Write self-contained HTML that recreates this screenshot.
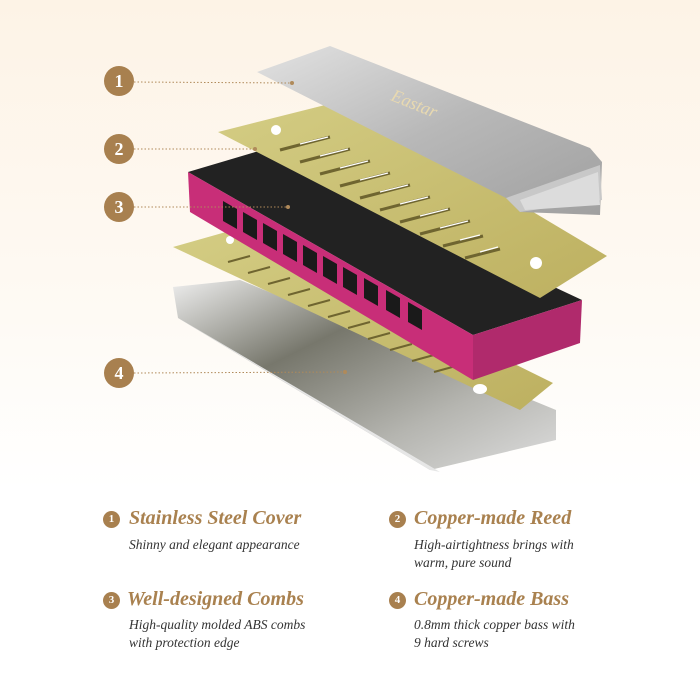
<!DOCTYPE html>
<html><head><meta charset="utf-8"><style>
html,body{margin:0;padding:0}
body{width:700px;height:700px;overflow:hidden;background:linear-gradient(180deg,#fdf3e6 0%,#fefaf4 45%,#ffffff 70%);font-family:"Liberation Serif",serif;position:relative}
svg{position:absolute;left:0;top:0}
.h{position:absolute;color:#a9814f;font-style:italic;font-weight:bold;font-size:20px;white-space:nowrap}
.s{position:absolute;color:#333;font-style:italic;font-size:13.5px;line-height:18px;white-space:nowrap}
.c{position:absolute;width:17px;height:17px;border-radius:50%;background:#a8804f;color:#fff;font-weight:bold;font-size:11px;text-align:center;line-height:17px}
</style></head><body>
<svg width="700" height="700" viewBox="0 0 700 700">
<defs>
<linearGradient id="cov" x1="0" y1="0" x2="1" y2="1"><stop offset="0" stop-color="#e2e2e2"/><stop offset=".5" stop-color="#b8b8b8"/><stop offset="1" stop-color="#a0a0a0"/></linearGradient>
<linearGradient id="bot" x1="0" y1="0" x2="1" y2="1"><stop offset="0" stop-color="#eeeeee"/><stop offset=".35" stop-color="#77776c"/><stop offset=".7" stop-color="#b5b5b0"/><stop offset="1" stop-color="#dddddd"/></linearGradient>
<linearGradient id="gold" x1="0" y1="0" x2="1" y2="1"><stop offset="0" stop-color="#d4cd84"/><stop offset="1" stop-color="#bdb060"/></linearGradient>
</defs>
<!-- bottom cover -->
<polygon points="173,287 240,280 556,410 556,440 430,470 178,318" fill="url(#bot)"/>
<polygon points="178,318 430,470 440,472 185,322" fill="#e6e6e6"/>
<!-- lower plate -->
<polygon points="173,247 240,228 553,383 520,410" fill="url(#gold)"/>
<g stroke="#6f6530" stroke-width="2">
<line x1="228" y1="262" x2="250" y2="256"/><line x1="248" y1="273" x2="270" y2="267"/><line x1="268" y1="284" x2="290" y2="278"/><line x1="288" y1="295" x2="310" y2="289"/><line x1="308" y1="306" x2="330" y2="300"/><line x1="328" y1="317" x2="350" y2="311"/><line x1="348" y1="328" x2="370" y2="322"/><line x1="368" y1="339" x2="390" y2="333"/><line x1="390" y1="350" x2="412" y2="344"/><line x1="412" y1="361" x2="434" y2="355"/><line x1="434" y1="372" x2="456" y2="366"/>
</g>
<ellipse cx="480" cy="389" rx="7" ry="5" fill="#fff"/>
<circle cx="230" cy="240" r="4" fill="#fff"/>
<!-- comb -->
<polygon points="188,172 262,150 582,300 473,335" fill="#222"/>
<polygon points="188,172 473,335 473,380 190,212" fill="#c82e78"/>
<polygon points="473,335 582,300 580,343 473,380" fill="#b02a6c"/>
<g fill="#1a1a1a">
<polygon points="223,201 237,209 237,229 223,221"/>
<polygon points="243,212 257,220 257,240 243,232"/>
<polygon points="263,223 277,231 277,251 263,243"/>
<polygon points="283,234 297,242 297,262 283,254"/>
<polygon points="303,245 317,253 317,273 303,265"/>
<polygon points="323,256 337,264 337,284 323,276"/>
<polygon points="343,267 357,275 357,295 343,287"/>
<polygon points="364,278 378,286 378,306 364,298"/>
<polygon points="386,290 400,298 400,318 386,310"/>
<polygon points="408,302 422,310 422,330 408,322"/>
</g>
<!-- upper plate -->
<polygon points="218,132 345,100 607,256 540,298" fill="url(#gold)"/>
<g stroke="#6f6530" stroke-width="3">
<line x1="280" y1="150" x2="330" y2="137"/><line x1="300" y1="162" x2="350" y2="149"/><line x1="320" y1="174" x2="370" y2="161"/><line x1="340" y1="186" x2="390" y2="173"/><line x1="360" y1="198" x2="410" y2="185"/><line x1="380" y1="210" x2="430" y2="197"/><line x1="400" y1="222" x2="450" y2="209"/><line x1="420" y1="234" x2="470" y2="221"/><line x1="443" y1="246" x2="483" y2="236"/><line x1="465" y1="258" x2="500" y2="249"/>
</g>
<g stroke="#fff" stroke-width="1.2">
<line x1="300" y1="144" x2="328" y2="137"/><line x1="320" y1="156" x2="348" y2="149"/><line x1="340" y1="168" x2="368" y2="161"/><line x1="360" y1="180" x2="388" y2="173"/><line x1="380" y1="192" x2="408" y2="185"/><line x1="400" y1="204" x2="428" y2="197"/><line x1="420" y1="216" x2="448" y2="209"/><line x1="440" y1="228" x2="468" y2="221"/><line x1="460" y1="240" x2="480" y2="235"/><line x1="480" y1="252" x2="498" y2="247"/>
</g>
<circle cx="276" cy="130" r="5" fill="#fff"/><circle cx="536" cy="263" r="6" fill="#fff"/>
<!-- top cover -->
<polygon points="257,72 330,46 590,148 602,162 600,215 520,212 506,198" fill="url(#cov)"/>
<polygon points="506,198 600,165 602,200 520,212" fill="#c8c8c8"/>
<polygon points="520,200 598,172 600,205 525,210" fill="#dcdcdc"/>
<text x="390" y="100" transform="rotate(22 390 100)" font-family="Liberation Serif" font-style="italic" font-size="18" fill="#e8d9b0">Eastar</text>
<!-- leaders -->
<g stroke="#b08a5a" stroke-width="1" stroke-dasharray="1.5,2" fill="none">
<line x1="134" y1="82" x2="292" y2="83"/><line x1="134" y1="149" x2="255" y2="149"/><line x1="134" y1="207" x2="288" y2="207"/><line x1="134" y1="373" x2="345" y2="372"/>
</g>
<g fill="#b08a5a"><circle cx="292" cy="83" r="2"/><circle cx="255" cy="149" r="2"/><circle cx="288" cy="207" r="2"/><circle cx="345" cy="372" r="2"/></g>
<g fill="#a8804f"><circle cx="119" cy="81" r="15"/><circle cx="119" cy="149" r="15"/><circle cx="119" cy="207" r="15"/><circle cx="119" cy="373" r="15"/></g>
<g fill="#fff" font-family="Liberation Serif" font-weight="bold" font-size="18" text-anchor="middle">
<text x="119" y="87">1</text><text x="119" y="155">2</text><text x="119" y="213">3</text><text x="119" y="379">4</text></g>
</svg>
<div class="c" style="left:103px;top:511px">1</div>
<div class="h" style="left:129px;top:507px">Stainless Steel Cover</div>
<div class="s" style="left:129px;top:536px">Shinny and elegant appearance</div>
<div class="c" style="left:389px;top:511px">2</div>
<div class="h" style="left:414px;top:507px">Copper-made Reed</div>
<div class="s" style="left:414px;top:536px">High-airtightness brings with<br>warm, pure sound</div>
<div class="c" style="left:103px;top:592px">3</div>
<div class="h" style="left:127px;top:588px">Well-designed Combs</div>
<div class="s" style="left:129px;top:616px">High-quality molded ABS combs<br>with protection edge</div>
<div class="c" style="left:389px;top:592px">4</div>
<div class="h" style="left:414px;top:588px">Copper-made Bass</div>
<div class="s" style="left:414px;top:616px">0.8mm thick copper bass with<br>9 hard screws</div>
</body></html>
